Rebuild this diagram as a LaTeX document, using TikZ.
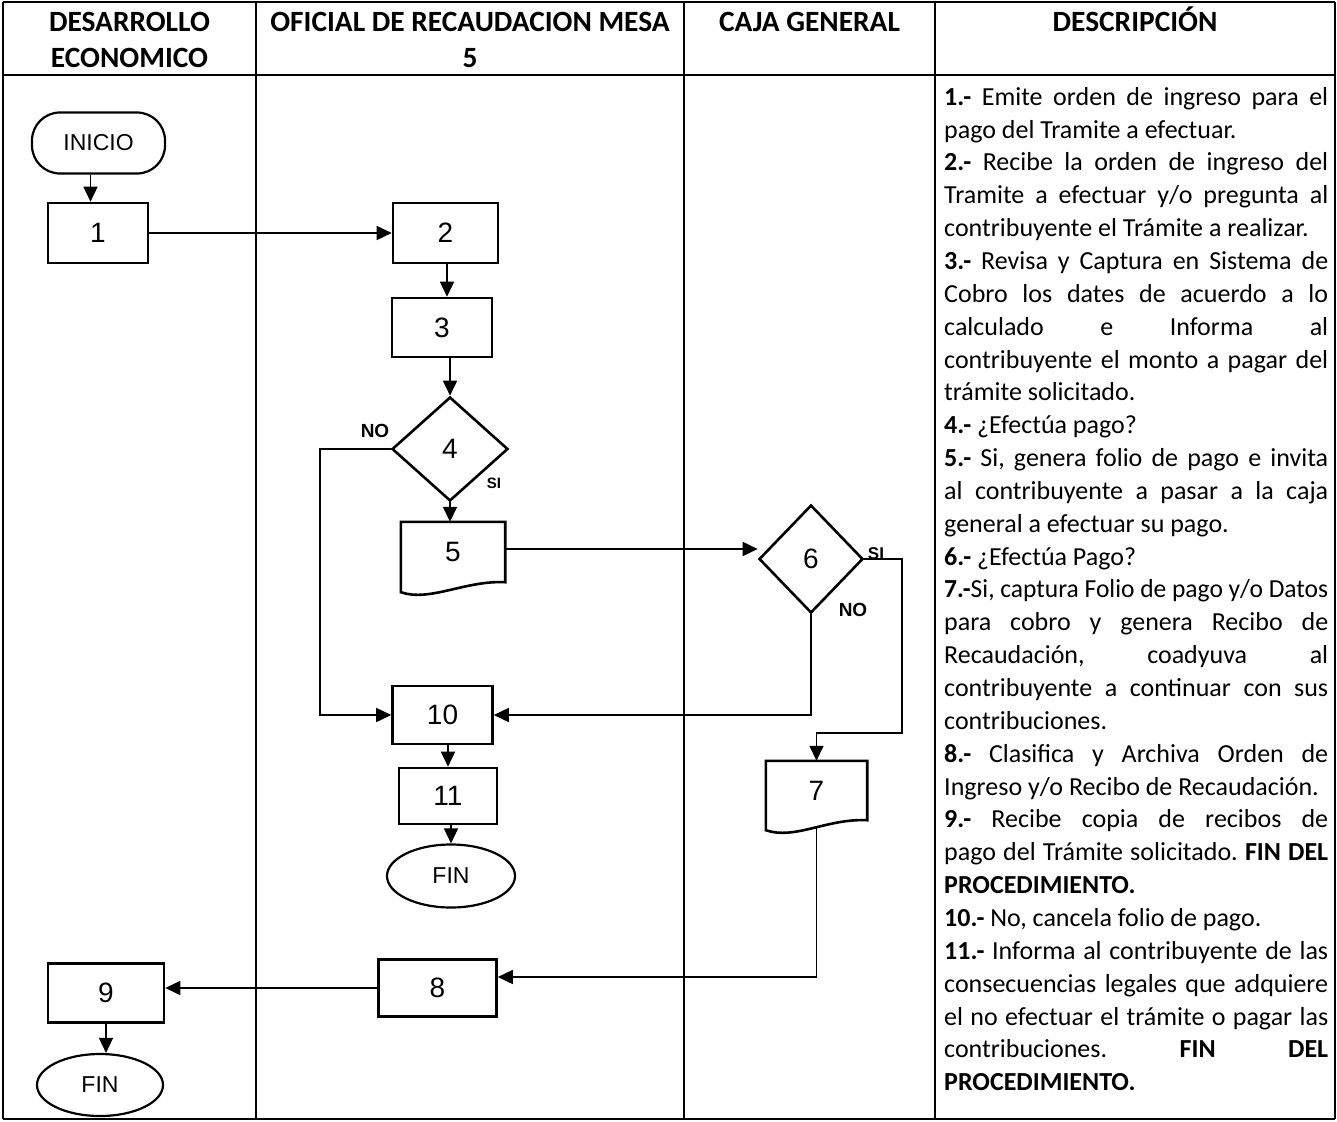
\documentclass[tikz,border=0pt]{standalone}
\usepackage{graphicx}
\usepackage{fontspec}
\setmainfont{Carlito}
\newfontfamily\arialf{Liberation Sans}
\usetikzlibrary{shapes.geometric,arrows.meta}
\newlength\dlw
\newcommand\jl[1]{\settowidth\dlw{#1}\ifdim\dlw>384pt\relax\pgfmathsetmacro\dsc{384/\dlw}\leavevmode\scalebox{\dsc}[1]{\rule{0pt}{20pt}#1}\else\leavevmode\hbox to 384pt{\rule{0pt}{20pt}#1}\fi\par}
\newcommand\lastl[1]{\settowidth\dlw{#1}\ifdim\dlw>384pt\relax\pgfmathsetmacro\dsc{384/\dlw}\leavevmode\scalebox{\dsc}[1]{\rule{0pt}{20pt}#1}\else\leavevmode\hbox{\rule{0pt}{20pt}#1}\fi\par}
\tikzset{
  grid/.style={line width=1.6pt},
  box/.style={draw, rectangle, line width=2.6pt, inner sep=0pt, font=\arialf\fontsize{28}{28}\selectfont},
  dia/.style={draw, diamond, line width=2.6pt, inner sep=0pt, font=\arialf\fontsize{28}{28}\selectfont},
  term/.style={draw, ellipse, line width=2.2pt, inner sep=0pt, font=\arialf\fontsize{23}{23}\selectfont},
  docnode/.style={rectangle, inner sep=0pt, font=\arialf\fontsize{28}{28}\selectfont},
  docline/.style={line width=2.6pt, line join=miter},
  arr/.style={line width=1.6pt, -{Triangle[length=15pt,width=14pt]}},
  lbl/.style={font=\arialf\bfseries\fontsize{19}{19}\selectfont, inner sep=0pt},
  hdr/.style={font=\bfseries\fontsize{29.4}{36}\selectfont, inner sep=0pt, anchor=base},
}
\begin{document}
\begin{tikzpicture}[x=1pt,y=-1pt]
\useasboundingbox (0,0) rectangle (1337,1121);
% grid
\draw[grid] (3,2) -- (1335,2);
\draw[grid] (3,75) -- (1335,75);
\draw[grid] (3,1119) -- (1335,1119);
\draw[grid] (3,2) -- (3,1119);
\draw[grid] (256,2) -- (256,1119);
\draw[grid] (684,2) -- (684,1119);
\draw[line width=2.4pt] (935,2) -- (935,1119);
\draw[grid] (1335,2) -- (1335,1119);
% headers
\node[hdr] (h1a) at (129.5,32) {DESARROLLO};
\node[hdr] (h1b) at (129.5,68) {ECONOMICO};
\node[hdr] (h2a) at (470,32) {OFICIAL DE RECAUDACION MESA};
\node[hdr] (h2b) at (470,68) {5};
\node[hdr] (h3) at (809.5,32) {CAJA GENERAL};
\node[hdr] (h4) at (1135,32) {DESCRIPCIÓN};
% nodes
\node[draw, rectangle, rounded corners=28pt, line width=2.2pt, minimum width=133pt, minimum height=61pt, inner sep=0pt, font=\arialf\fontsize{23}{23}\selectfont] (inicio) at (98.5,143) {INICIO};
\node[box, minimum width=100pt, minimum height=60pt] (n1) at (98,233) {1};
\node[box, minimum width=105pt, minimum height=60pt] (n2) at (445.5,233) {2};
\node[box, minimum width=100pt, minimum height=59pt] (n3) at (442,327.5) {3};
\node[dia, minimum width=116pt, minimum height=104pt] (n4) at (450,449) {4};
\node[docnode, minimum width=104pt, minimum height=60pt] (n5) at (453,552) {5};
\node[dia, minimum width=104pt, minimum height=108pt] (n6) at (811,559) {6};
\node[docnode, minimum width=101pt, minimum height=59pt] (n7) at (816.5,790.5) {7};
\node[box, minimum width=100pt, minimum height=58pt] (n10) at (442.5,715) {10};
\node[box, minimum width=98pt, minimum height=56pt] (n11) at (448,796) {11};
\node[term, minimum width=128pt, minimum height=63pt] (fin1) at (451,876) {FIN};
\node[box, minimum width=118pt, minimum height=57pt] (n8) at (437.5,988) {8};
\node[box, minimum width=116pt, minimum height=59pt] (n9) at (106,993) {9};
\node[term, minimum width=126pt, minimum height=62pt] (fin2) at (100,1085) {FIN};
% document outlines
\draw[docline] (n5.north west) -- (n5.north east) -- (n5.south east) .. controls +(-40,-2) and +(29,10) .. ([yshift=-10pt]n5.south west) -- cycle;
\draw[docline] (n7.north west) -- (n7.north east) -- (n7.south east) .. controls +(-40,-2) and +(29,10) .. ([yshift=-10pt]n7.south west) -- cycle;
% labels
\node[lbl] (no4) at (375,431) {NO};
\node[lbl, font=\arialf\bfseries\fontsize{15}{15}\selectfont] (si4) at (494,483) {SI};
\node[lbl, font=\arialf\bfseries\fontsize{17}{17}\selectfont] (si6) at (876,554) {SI};
\node[lbl] (no6) at (853,610) {NO};
% coordinates
\coordinate (c410) at (320,449);
\coordinate (c67) at (902,733);
% connectors
\draw[arr] ([xshift=-8pt]inicio.south) -- ([xshift=-8pt]inicio.south |- n1.north);
\draw[arr] (n1.east) -- (n1.east -| n2.west);
\draw[arr] ([xshift=1.5pt]n2.south) -- ([xshift=1.5pt]n2.south |- n3.north);
\draw[arr] (n4.north |- n3.south) -- (n4.north);
\draw[arr] (n4.south) -- (n4.south |- n5.north);
\draw[arr] ([yshift=3pt]n5.east) -- ([yshift=3pt]n5.east -| n6.west);
\draw[arr] (n6.east) -| (c67) -| (n7.north);
\draw[arr] (n6.south) |- (n10.east);
\draw[arr] (n4.west) -- (c410) |- (n10.west);
\draw[arr] (n11.north |- n10.south) -- (n11.north);
\draw[arr] (fin1.north |- n11.south) -- (fin1.north);
\draw[arr] ([yshift=-8pt]n7.south) |- ([yshift=11pt]n8.east);
\draw[arr] (n8.west) -- (n8.west -| n9.east);
\draw[arr] (n9.south) -- (n9.south |- fin2.north);
% description
\node[anchor=north west, inner sep=0pt, text width=384pt, align=justify, font=\fontsize{26}{32.85}\selectfont] (desc) at (944,85) {%
\setlength\parindent{0pt}\spaceskip=0pt\xspaceskip=0pt\frenchspacing
\jl{\textbf{1.-} Emite orden de ingreso para el}
\lastl{pago del Tramite a efectuar.}
\jl{\textbf{2.-} Recibe la orden de ingreso del}
\jl{Tramite a efectuar y/o pregunta al}
\lastl{contribuyente el Trámite a realizar.}
\jl{\textbf{3.-} Revisa y Captura en Sistema de}
\jl{Cobro los dates de acuerdo a lo}
\jl{calculado e Informa al}
\jl{contribuyente el monto a pagar del}
\lastl{trámite solicitado.}
\lastl{\textbf{4.-} ¿Efectúa pago?}
\jl{\textbf{5.-} Si, genera folio de pago e invita}
\jl{al contribuyente a pasar a la caja}
\lastl{general a efectuar su pago.}
\lastl{\textbf{6.-} ¿Efectúa Pago?}
\jl{\textbf{7.-}Si, captura Folio de pago y/o Datos}
\jl{para cobro y genera Recibo de}
\jl{Recaudación, coadyuva al}
\jl{contribuyente a continuar con sus}
\lastl{contribuciones.}
\jl{\textbf{8.-} Clasifica y Archiva Orden de}
\lastl{Ingreso y/o Recibo de Recaudación.}
\jl{\textbf{9.-} Recibe copia de recibos de}
\jl{pago del Trámite solicitado. \textbf{FIN DEL}}
\lastl{\textbf{PROCEDIMIENTO.}}
\lastl{\textbf{10.-} No, cancela folio de pago.}
\jl{\textbf{11.-} Informa al contribuyente de las}
\jl{consecuencias legales que adquiere}
\jl{el no efectuar el trámite o pagar las}
\jl{contribuciones. \textbf{FIN} \textbf{DEL}}
\lastl{\textbf{PROCEDIMIENTO.}}
};
\end{tikzpicture}
\end{document}
